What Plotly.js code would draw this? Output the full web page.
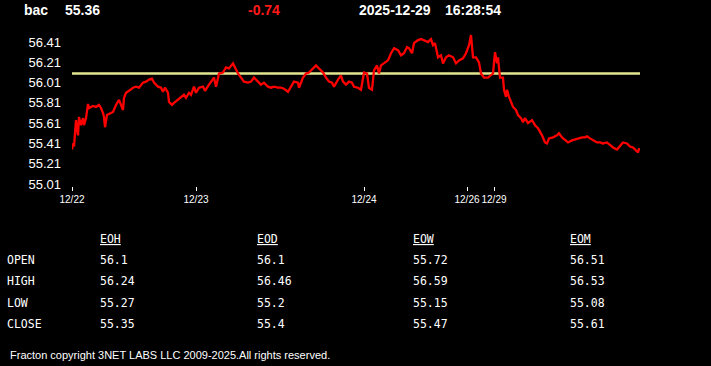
<!DOCTYPE html>
<html>
<head>
<meta charset="utf-8">
<script src="https://cdn.plot.ly/plotly-3.0.1.min.js"></script>
<style>
html,body{margin:0;padding:0;background:#000;}
#chart{width:711px;height:366px;}
</style>
</head>
<body>
<div id="chart"></div>
<script>
// ---- header ----
const symbol = 'bac';
const lastPrice = '55.36';
const change = '-0.74';
const quoteDate = '2025-12-29';
const quoteTime = '16:28:54';
const referencePrice = 56.1;   // open (yellow reference line)

// ---- intraday series (session time index, price) ----
const sessionIdx = [
  0,1,2,4,6,7,9,11,12,14,16,17,21,24,27,29,31,32,33,35,
  37,41,44,46,47,49,51,52,54,57,61,64,67,71,74,77,80,82,86,89,
  91,93,96,97,100,102,106,109,112,114,117,119,122,124,127,131,133,137,139,142,
  144,147,151,154,157,161,163,166,169,172,176,179,182,186,189,192,196,199,202,206,
  209,212,216,219,222,226,227,231,234,237,241,244,247,251,254,257,260,262,266,269,
  271,274,277,280,282,286,289,292,295,297,300,302,305,307,309,312,316,319,322,326,
  329,332,335,337,340,342,346,349,352,356,359,361,363,366,369,371,374,377,381,384,
  387,391,394,397,399,401,404,407,409,412,416,419,421,423,425,426,428,431,432,434,
  435,437,439,441,444,446,449,451,453,456,460,463,466,470,473,475,477,481,485,487,
  490,493,496,500,503,506,510,513,515,518,521,525,528,531,535,538,541,545,548,551,
  555,558,561,565,566,567,568
];
const price = [
  55.35,55.41,55.38,55.64,55.49,55.67,55.59,55.66,55.59,55.66,55.80,55.76,55.78,55.77,55.79,55.76,55.71,55.67,55.57,55.69,
  55.70,55.72,55.79,55.82,55.84,55.79,55.74,55.86,55.91,55.93,55.96,55.97,55.96,56.01,56.02,56.04,56.05,56.01,55.97,55.96,
  55.92,55.96,55.91,55.82,55.79,55.81,55.84,55.87,55.89,55.86,55.91,55.89,55.97,55.91,55.96,55.97,55.93,55.99,56.02,56.06,
  55.97,56.10,56.11,56.16,56.15,56.20,56.16,56.10,56.06,56.02,56.01,56.02,56.06,56.02,55.99,56.01,55.97,55.96,55.97,55.96,
  55.96,55.95,55.92,55.97,56.02,56.01,55.96,56.06,56.10,56.11,56.15,56.18,56.15,56.11,56.06,56.02,56.01,55.97,56.04,56.08,
  56.02,55.99,56.02,56.01,55.97,55.96,55.94,56.11,56.10,55.96,55.94,56.13,56.18,56.10,56.18,56.20,56.23,56.30,56.35,56.33,
  56.28,56.30,56.36,56.35,56.30,56.40,56.43,56.44,56.43,56.41,56.44,56.38,56.40,56.26,56.28,56.20,56.26,56.28,56.26,56.20,
  56.23,56.25,56.30,56.38,56.48,56.26,56.26,56.21,56.10,56.06,56.06,56.08,56.10,56.31,56.20,56.26,56.06,56.06,55.94,55.87,
  55.94,55.87,55.82,55.77,55.74,55.69,55.66,55.62,55.66,55.61,55.64,55.59,55.56,55.49,55.42,55.41,55.46,55.47,55.49,55.51,
  55.47,55.44,55.42,55.44,55.45,55.46,55.47,55.47,55.48,55.46,55.44,55.42,55.42,55.41,55.42,55.39,55.37,55.35,55.39,55.42,
  55.41,55.38,55.37,55.33,55.32,55.36,55.34
];

// ---- axis ticks ----
const dayTickIdx = [0, 124, 292, 395, 422];
const dayTickText = ['12/22', '12/23', '12/24', '12/26', '12/29'];
const priceTicks = [55.01, 55.21, 55.41, 55.61, 55.81, 56.01, 56.21, 56.41];

// ---- summary table ----
const tableCols = ['EOH', 'EOD', 'EOW', 'EOM'];
const tableRows = ['OPEN', 'HIGH', 'LOW', 'CLOSE'];
const eohVals = [56.1, 56.24, 55.27, 55.35];
const eodVals = [56.1, 56.46, 55.2, 55.4];
const eowVals = [55.72, 56.59, 55.15, 55.47];
const eomVals = [56.51, 56.53, 55.08, 55.61];
const tableVals = [eohVals, eodVals, eowVals, eomVals];

const footer = 'Fracton copyright 3NET LABS LLC 2009-2025.All rights reserved.';

// ---- layout geometry ----
const W = 711, H = 366;
const M = {l: 72, r: 71, t: 34, b: 180};
const PW = W - M.l - M.r, PH = H - M.t - M.b;
const px = x => (x - M.l) / PW;
const py = y => (H - M.b - y) / PH;

const sans = 'Liberation Sans, Arial, sans-serif';
const mono = 'DejaVu Sans Mono, monospace';

const ann = [];
function addText(text, x, y, font, anchor) {
  ann.push({text: text, xref: 'paper', yref: 'paper', x: px(x), y: py(y),
    xanchor: anchor || 'left', yanchor: 'middle', showarrow: false, font: font});
}
const hdrFont = {family: sans, size: 14, color: '#ffffff', weight: 'bold'};
addText('<b>' + symbol + '</b>', 22, 10, hdrFont);
addText('<b>' + lastPrice + '</b>', 63, 10, hdrFont);
addText('<b>' + change + '</b>', 246, 10, Object.assign({}, hdrFont, {color: '#ff1a1a'}));
addText('<b>' + quoteDate + '</b>', 357, 10, hdrFont);
addText('<b>' + quoteTime + '</b>', 443, 10, hdrFont);

const tblFont = {family: mono, size: 11.5, color: '#ffffff'};
const colX = [98, 255, 411, 568];
const rowY = [260, 281, 303, 324];
tableCols.forEach((c, i) => addText('<u>' + c + '</u>', colX[i], 239, tblFont));
tableRows.forEach((r, j) => addText(r, 5, rowY[j], tblFont));
tableVals.forEach((col, i) => col.forEach((v, j) => addText(String(v), colX[i], rowY[j], tblFont)));

addText(footer, 8, 355, {family: sans, size: 11, color: '#ffffff'});

const traces = [{
  x: sessionIdx, y: price, type: 'scatter', mode: 'lines',
  line: {color: '#ff0000', width: 2.3}, hoverinfo: 'skip'
}];

const layout = {
  width: W, height: H, margin: M,
  paper_bgcolor: '#000', plot_bgcolor: '#000',
  showlegend: false,
  xaxis: {
    range: [0, 568], showgrid: false, zeroline: false, showline: false,
    tickmode: 'array', tickvals: dayTickIdx, ticktext: dayTickText,
    tickangle: 0,
    ticks: 'outside', ticklen: 4, tickwidth: 1, tickcolor: '#ffffff',
    tickfont: {family: sans, size: 10, color: '#ffffff'}
  },
  yaxis: {
    range: [54.99, 56.49], showgrid: false, zeroline: false, showline: false,
    tickmode: 'array', tickvals: priceTicks, ticktext: priceTicks.map(v => v.toFixed(2)),
    ticks: '', ticklabelstandoff: 10,
    tickfont: {family: sans, size: 13, color: '#ffffff'}
  },
  shapes: [{
    type: 'line', xref: 'paper', yref: 'y', x0: 0, x1: 1, y0: referencePrice, y1: referencePrice,
    line: {color: '#e2e68e', width: 2.5}, layer: 'below'
  }],
  annotations: ann
};

Plotly.newPlot('chart', traces, layout, {displayModeBar: false, staticPlot: true});
</script>
</body>
</html>
